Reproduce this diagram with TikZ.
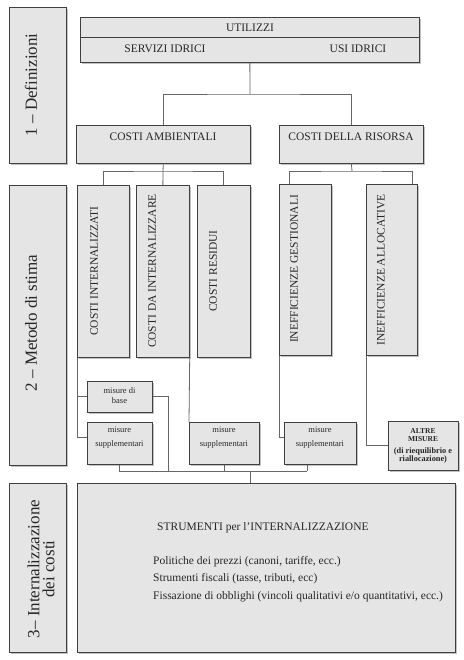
\documentclass[tikz,border=0pt]{standalone}
\usepackage{fontspec}
\setmainfont{Liberation Serif}
\usetikzlibrary{shadows}
\begin{document}
\begin{tikzpicture}[x=1pt,y=-1pt,
  box/.style={draw=black!75,line width=0.7pt,fill=black!10,inner sep=0pt,anchor=north west,
    drop shadow={shadow xshift=1.2pt,shadow yshift=-1.2pt,fill=black!40,opacity=0.6}},
  conn/.style={draw=black!60,line width=0.8pt},
  caps/.style={font=\fontsize{11.5}{13}\selectfont,text=black!85,inner sep=0pt},
  vcaps/.style={caps,rotate=90},
  sect/.style={font=\fontsize{17}{15}\selectfont,text=black!85,rotate=90,inner sep=0pt,align=center},
  small/.style={text=black!85,inner sep=0pt,align=center},
  body/.style={font=\fontsize{11.5}{13}\selectfont,text=black!85,inner sep=0pt,anchor=west}]
\useasboundingbox (0,0) rectangle (463,660);
% section panels
\node[box,minimum width=57pt,minimum height=156pt] (p1) at (9,7) {};
\node[box,minimum width=57pt,minimum height=280pt] (p2) at (9,185) {};
\node[box,minimum width=57pt,minimum height=169pt] (p3) at (9,483) {};
\node[sect] (p1t) at (31,85) {1 – Definizioni};
\node[sect] (p2t) at (31,323) {2 – Metodo di stima};
\node[sect] (p3t) at (41,569) {3– Internalizzazione\\dei costi};
% boxes
\node[box,minimum width=339pt,minimum height=45pt] (util) at (80,17) {};
\draw[black!75,line width=0.7pt] ([yshift=-20pt]util.north west) -- ([yshift=-20pt]util.north east);
\node[caps] (utilt) at (250,27.5) {UTILIZZI};
\node[caps] (servt) at (165,49) {SERVIZI IDRICI};
\node[caps] (usit) at (358,49) {USI IDRICI};
\node[box,minimum width=174pt,minimum height=38pt] (amb) at (76,125) {};
\node[box,minimum width=144pt,minimum height=38pt] (ris) at (279,125) {};
\node[caps] (ambt) at (163,137) {COSTI AMBIENTALI};
\node[caps] (rist) at (351,137) {COSTI DELLA RISORSA};
\node[box,minimum width=52pt,minimum height=172pt] (ci) at (77,185) {};
\node[box,minimum width=53pt,minimum height=172pt] (cdi) at (136,185) {};
\node[box,minimum width=53pt,minimum height=172pt] (cr) at (197,185) {};
\node[box,minimum width=52pt,minimum height=171pt] (ig) at (279,184) {};
\node[box,minimum width=51pt,minimum height=171pt] (ia) at (366,184) {};
\node[vcaps] (cit) at (94,271) {COSTI INTERNALIZZATI};
\node[vcaps] (cdit) at (152,271) {COSTI DA INTERNALIZZARE};
\node[vcaps] (crt) at (213,271) {COSTI RESIDUI};
\node[vcaps] (igt) at (294,269) {INEFFICIENZE GESTIONALI};
\node[vcaps] (iat) at (381,270) {INEFFICIENZE ALLOCATIVE};
\node[box,minimum width=65pt,minimum height=31pt] (mb) at (87,381) {};
\node[box,minimum width=65pt,minimum height=42pt] (ms1) at (87,422) {};
\node[box,minimum width=70pt,minimum height=42pt] (ms2) at (189,422) {};
\node[box,minimum width=72pt,minimum height=42pt] (ms3) at (284,422) {};
\node[box,minimum width=70pt,minimum height=49pt] (alt) at (388,421) {};
\node[small,font=\fontsize{8.5}{10}\selectfont] (mbt) at (119.5,396) {misure di\\base};
\node[small,font=\fontsize{8.5}{14}\selectfont] (ms1t) at (119.5,438) {misure\\supplementari};
\node[small,font=\fontsize{8.5}{14}\selectfont] (ms2t) at (224,438) {misure\\supplementari};
\node[small,font=\fontsize{8.5}{14}\selectfont] (ms3t) at (320,438) {misure\\supplementari};
\node[small,font=\fontsize{7.5}{8}\bfseries] (altt) at (423,445.5) {ALTRE\\MISURE\\[4pt]{\fontsize{8.3}{9}\selectfont (di riequilibrio e}\\{\fontsize{8.3}{9}\selectfont riallocazione)}};
\node[box,minimum width=378pt,minimum height=169pt] (big) at (77,483) {};
\node[body] (st) at (157,528) {STRUMENTI per l’INTERNALIZZAZIONE};
\node[body] (l1) at (153,562) {Politiche dei prezzi (canoni, tariffe, ecc.)};
\node[body] (l2) at (153,579) {Strumenti fiscali (tasse, tributi, ecc)};
\node[body] (l3) at (153,597) {Fissazione di obblighi (vincoli qualitativi e/o quantitativi, ecc.)};
% connectors
\coordinate (j1) at (250,94);
\coordinate (j2) at (163,171);
\coordinate (j3) at (352,171);
\coordinate (bR) at (307,471);
\coordinate (bM) at (250,471);
\coordinate (b1) at (168,471);
\draw[conn] (util.south) -- (j1);
\draw[conn] (amb.north) |- (j1) -| (ris.north);
\draw[conn] (amb.south) -- (j2);
\draw[conn] (ci.north) |- (j2) -| (cr.north);
\draw[conn] (j2) -- (cdi.north);
\draw[conn] (ris.south) -- (j3);
\draw[conn] ([xshift=10pt]ig.north west) |- (j3) -| ([xshift=-5pt]ia.north east);
\draw[conn] (ci.south west) |- ([yshift=6pt]ms1.west);
\draw[conn] (ci.south west |- mb.west) -- (mb.west);
\draw[conn] (mb.east) -| (b1);
\draw[conn] (ms1.south) |- (bR);
\draw[conn] (ms2.south) -- (ms2.south |- bR);
\draw[conn] (ms3.south -| bR) -- (bR);
\draw[conn] (bM) -- (bM |- big.north);
\draw[conn] (cdi.south east) -- (ms2.north west);
\draw[conn] (ig.south west) |- ([yshift=6pt]ms3.west);
\draw[conn] (ia.south west) |- (alt.west);
\end{tikzpicture}
\end{document}
